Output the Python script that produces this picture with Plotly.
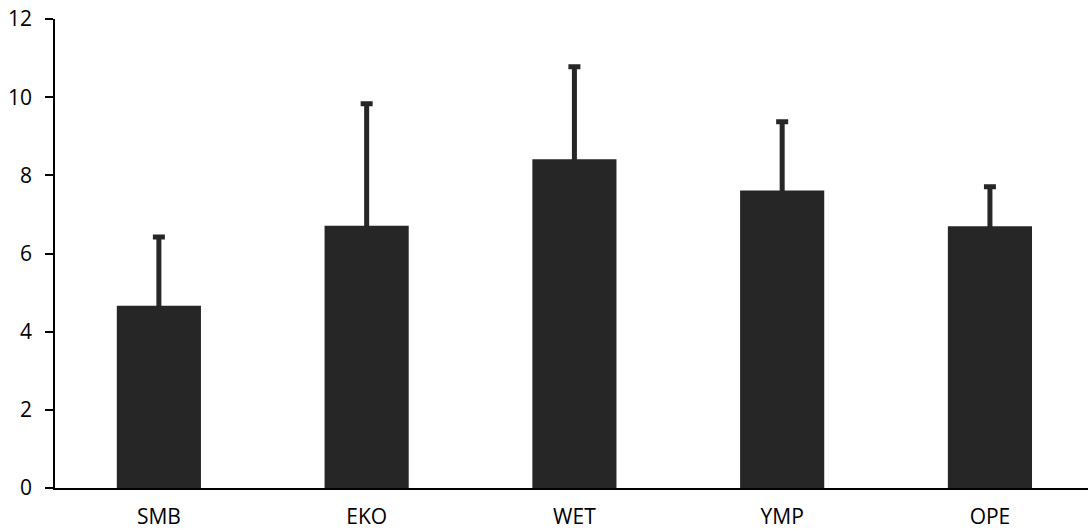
import plotly.graph_objects as go

categories = ["SMB", "EKO", "WET", "YMP", "OPE"]
means = [4.66, 6.71, 8.41, 7.61, 6.70]
errors = [1.76, 3.12, 2.37, 1.76, 1.01]
y_ticks = [0, 2, 4, 6, 8, 10, 12]

bar_color = "#262626"
font_family = "Open Sans, Lato, sans-serif"

fig = go.Figure(
    go.Bar(
        x=categories,
        y=means,
        marker=dict(color=bar_color, line=dict(width=0)),
        error_y=dict(
            type="data",
            array=errors,
            symmetric=True,
            color=bar_color,
            thickness=5,
            width=6,
        ),
        showlegend=False,
        hoverinfo="skip",
    )
)

fig.update_layout(
    width=1088,
    height=529,
    margin=dict(l=55, r=0, t=19, b=41),
    paper_bgcolor="white",
    plot_bgcolor="white",
    bargap=0.595,
    font=dict(family=font_family, size=21, color="#000000"),
    xaxis=dict(
        range=[-0.5, 4.472],
        automargin=False,
        showgrid=False,
        showline=True,
        linecolor="#000000",
        linewidth=1.5,
        ticks="",
        ticklabelstandoff=9,
        tickfont=dict(size=21),
        zeroline=False,
    ),
    yaxis=dict(
        range=[0, 12],
        automargin=False,
        tickvals=y_ticks,
        showgrid=False,
        showline=True,
        linecolor="#000000",
        linewidth=1.5,
        ticks="outside",
        ticklen=8,
        tickwidth=1.5,
        tickcolor="#000000",
        ticklabelstandoff=9,
        tickfont=dict(size=21),
        zeroline=False,
    ),
)

fig.write_html(
    "out.html",
    config={"displayModeBar": False},
    post_script="document.body.style.margin='0';document.body.style.overflow='hidden';",
)
